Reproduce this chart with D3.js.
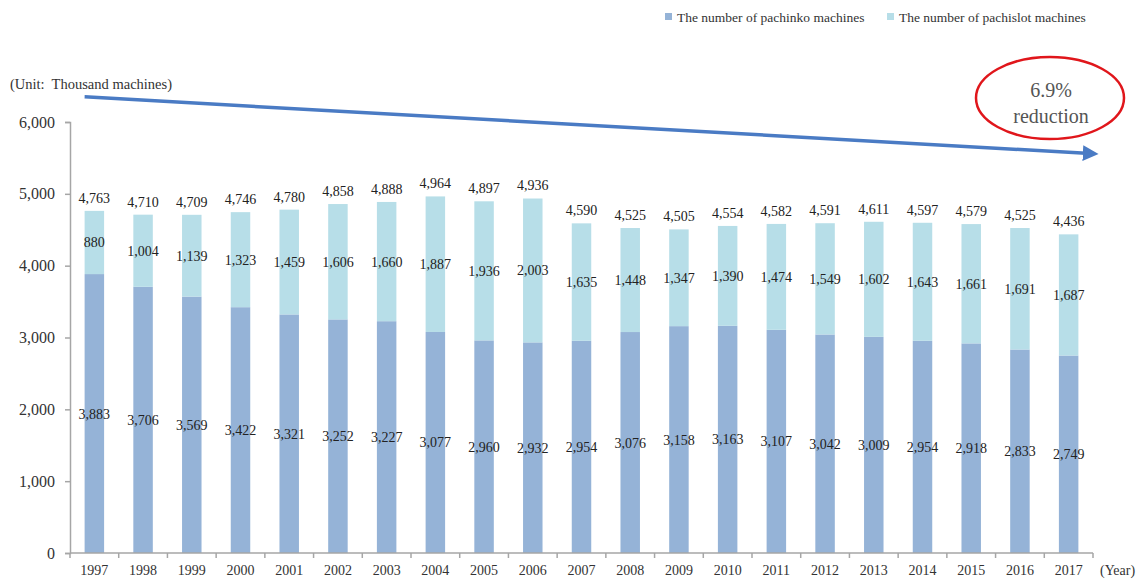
<!DOCTYPE html>
<html>
<head>
<meta charset="utf-8">
<script src="https://cdn.jsdelivr.net/npm/d3@7"></script>
<style>
  html, body { margin: 0; padding: 0; background: #fff; }
  svg { display: block; font-family: "Liberation Serif", "Times New Roman", serif; }
</style>
</head>
<body>
<svg id="chart" width="1148" height="580"></svg>
<script>
const years = ["1997","1998","1999","2000","2001","2002","2003","2004","2005","2006","2007","2008","2009","2010","2011","2012","2013","2014","2015","2016","2017"];
const pachinko = [3883,3706,3569,3422,3321,3252,3227,3077,2960,2932,2954,3076,3158,3163,3107,3042,3009,2954,2918,2833,2749];
const pachislot = [880,1004,1139,1323,1459,1606,1660,1887,1936,2003,1635,1448,1347,1390,1474,1549,1602,1643,1661,1691,1687];
const totals = [4763,4710,4709,4746,4780,4858,4888,4964,4897,4936,4590,4525,4505,4554,4582,4591,4611,4597,4579,4525,4436];
const yTicks = [0,1000,2000,3000,4000,5000,6000];
const seriesNames = ["The number of pachinko machines","The number of pachislot machines"];
const colors = ["#95B3D7","#B7DEE8"];
const unitLabel = "(Unit:  Thousand machines)";
const yearLabel = "(Year)";
const noteLines = ["6.9%","reduction"];

const svg = d3.select("#chart");
const fmt = d3.format(",");

const x = d3.scaleBand().domain(years).range([70, 1093]).paddingInner(0.6).paddingOuter(0.3);
const y = d3.scaleLinear().domain([0, 6000]).range([553, 122]);

const axisColor = "#A6A6A6";

// Y axis
const yAxis = svg.append("g").attr("transform", "translate(70,0)")
  .call(d3.axisLeft(y).tickValues(yTicks).tickFormat(fmt).tickSizeOuter(0).tickSize(5).tickPadding(10));
yAxis.select(".domain").attr("stroke", axisColor).attr("stroke-width", 1.5);
yAxis.selectAll(".tick line").attr("stroke", axisColor).attr("stroke-width", 1.5);
yAxis.selectAll(".tick text").attr("font-size", 16).attr("fill", "#333").attr("font-family", "Liberation Serif");

// Stacked data
const rows = years.map((yr, i) => ({ year: yr, pachinko: pachinko[i], pachislot: pachislot[i], total: totals[i] }));
const stack = d3.stack().keys(["pachinko", "pachislot"]);
const layers = stack(rows);

const g = svg.append("g");
layers.forEach((layer, li) => {
  g.selectAll(null).data(layer).enter().append("rect")
    .attr("x", d => x(d.data.year))
    .attr("width", x.bandwidth())
    .attr("y", d => y(d[1]))
    .attr("height", d => y(d[0]) - y(d[1]))
    .attr("fill", colors[li]);
});

// X axis
const xAxisG = svg.append("g").attr("transform", "translate(0,553)");
xAxisG.append("line").attr("x1", x.range()[0]).attr("x2", x.range()[1]).attr("stroke", axisColor).attr("stroke-width", 1.5);
const step = x.step();
const boundaries = d3.range(years.length + 1).map(i => x.range()[0] + i * step);
xAxisG.selectAll(null).data(boundaries).enter().append("line")
  .attr("x1", d => d).attr("x2", d => d).attr("y1", 0).attr("y2", 5)
  .attr("stroke", axisColor).attr("stroke-width", 1.5);
xAxisG.selectAll(null).data(years).enter().append("text")
  .attr("x", d => x(d) + x.bandwidth() / 2).attr("y", 22)
  .attr("text-anchor", "middle").attr("font-size", 14).attr("fill", "#333")
  .text(d => d);
xAxisG.append("text").attr("x", 1100).attr("y", 22).attr("font-size", 14).attr("fill", "#333").text(yearLabel);

// Data labels
const lbl = svg.append("g").attr("font-size", 14).attr("fill", "#222").attr("text-anchor", "middle");
layers.forEach(layer => {
  lbl.selectAll(null).data(layer).enter().append("text")
    .attr("x", d => x(d.data.year) + x.bandwidth() / 2)
    .attr("y", d => (y(d[0]) + y(d[1])) / 2 + 5)
    .text(d => fmt(d[1] - d[0]));
});
lbl.selectAll(null).data(rows).enter().append("text")
  .attr("x", d => x(d.year) + x.bandwidth() / 2)
  .attr("y", d => y(d.total) - 8)
  .text(d => fmt(d.total));

// Unit label
svg.append("text").attr("x", 10).attr("y", 89).attr("font-size", 14.5).attr("fill", "#333")
  .style("white-space", "pre").text(unitLabel);

// Legend
const legend = svg.append("g").attr("font-size", 13.5).attr("fill", "#333");
const legendX = [665, 887];
seriesNames.forEach((name, i) => {
  legend.append("rect").attr("x", legendX[i]).attr("y", 13).attr("width", 7).attr("height", 7).attr("fill", colors[i]);
  legend.append("text").attr("x", legendX[i] + 12).attr("y", 21.5).text(name);
});

// Trend arrow
const defs = svg.append("defs");
defs.append("marker").attr("id", "arrowHead").attr("viewBox", "0 0 10 10")
  .attr("refX", 2).attr("refY", 5).attr("markerWidth", 4.5).attr("markerHeight", 4.5)
  .attr("markerUnits", "strokeWidth").attr("orient", "auto")
  .append("path").attr("d", "M0,0 L10,5 L0,10 z").attr("fill", "#4A7BC4");
svg.append("line")
  .attr("x1", x(years[0])).attr("y1", y(6350))
  .attr("x2", x.range()[1] - 7).attr("y2", y(5565))
  .attr("stroke", "#4A7BC4").attr("stroke-width", 3.5)
  .attr("marker-end", "url(#arrowHead)");

// Ellipse note
svg.append("ellipse").attr("cx", 1050).attr("cy", 98).attr("rx", 74).attr("ry", 41)
  .attr("fill", "none").attr("stroke", "#E0161B").attr("stroke-width", 2.5);
svg.append("text").attr("x", 1051).attr("y", 97).attr("text-anchor", "middle").attr("font-size", 20).attr("fill", "#555").text(noteLines[0]);
svg.append("text").attr("x", 1051).attr("y", 123).attr("text-anchor", "middle").attr("font-size", 20).attr("fill", "#555").text(noteLines[1]);
</script>
</body>
</html>
